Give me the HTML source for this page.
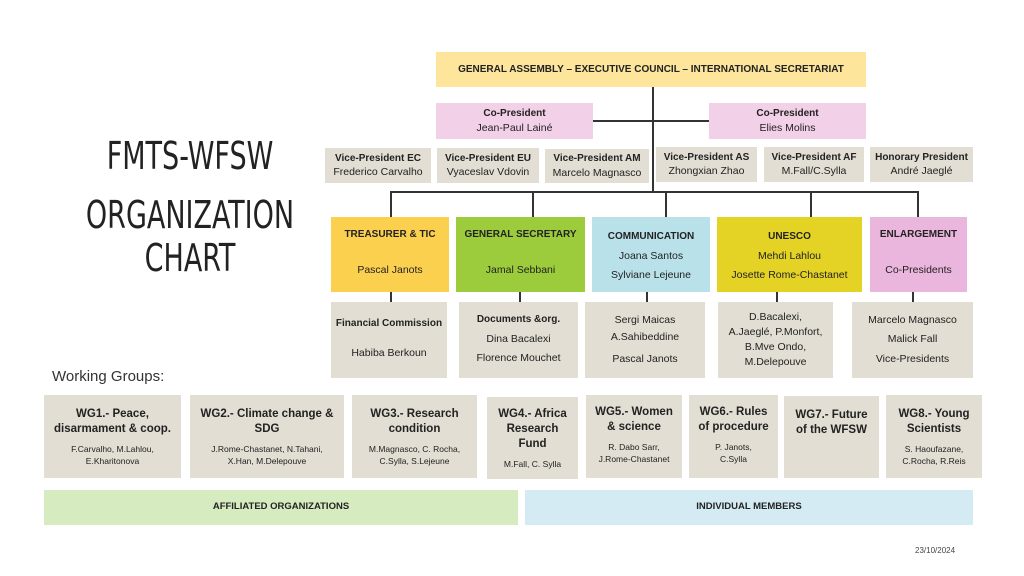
<!DOCTYPE html>
<html><head><meta charset="utf-8"><style>
*{margin:0;padding:0;box-sizing:border-box}
body{width:1024px;height:576px;background:#fff;position:relative;overflow:hidden;font-family:"Liberation Sans",sans-serif;color:#222}
.b{position:absolute;display:flex;flex-direction:column;justify-content:center;align-items:center;text-align:center;font-size:10.5px;line-height:1.35}
.b b{font-weight:bold;font-size:10px}
.g{background:#e2ded3}
.l{position:absolute;background:#333}
.t{position:absolute;left:40px;width:300px;text-align:center;font-family:"DejaVu Sans Condensed","DejaVu Sans",sans-serif;font-size:38px;line-height:1;transform:scaleX(0.79)}
.s{font-size:8.5px;line-height:1.45}
.w{font-size:11.5px!important;line-height:1.3}
</style></head><body>
<div class="t" style="top:137px">FMTS-WFSW</div>
<div class="t" style="top:196px">ORGANIZATION</div>
<div class="t" style="top:239px">CHART</div>
<div style="position:absolute;left:52px;top:368px;font-size:15px;color:#333">Working Groups:</div>
<div style="position:absolute;left:915px;top:546px;font-size:8px;color:#444">23/10/2024</div>

<div class="l" style="left:652px;top:87px;width:2px;height:105px"></div>
<div class="l" style="left:593px;top:120px;width:116px;height:2px"></div>
<div class="l" style="left:390px;top:191px;width:528px;height:2px"></div>
<div class="l" style="left:390px;top:191px;width:2px;height:26px"></div>
<div class="l" style="left:532px;top:191px;width:2px;height:26px"></div>
<div class="l" style="left:665px;top:191px;width:2px;height:26px"></div>
<div class="l" style="left:810px;top:191px;width:2px;height:26px"></div>
<div class="l" style="left:917px;top:191px;width:2px;height:26px"></div>
<div class="l" style="left:390px;top:292px;width:2px;height:10px"></div>
<div class="l" style="left:519px;top:292px;width:2px;height:10px"></div>
<div class="l" style="left:646px;top:292px;width:2px;height:10px"></div>
<div class="l" style="left:776px;top:292px;width:2px;height:10px"></div>
<div class="l" style="left:912px;top:292px;width:2px;height:10px"></div>

<div class="b" style="left:436px;top:52px;width:430px;height:35px;background:#fde59b"><b>GENERAL ASSEMBLY – EXECUTIVE COUNCIL – INTERNATIONAL SECRETARIAT</b></div>
<div class="b" style="left:436px;top:103px;width:157px;height:36px;background:#f2d0e8"><b>Co-President</b>Jean-Paul Lainé</div>
<div class="b" style="left:709px;top:103px;width:157px;height:36px;background:#f2d0e8"><b>Co-President</b>Elies Molins</div>

<div class="b g" style="left:325px;top:148px;width:106px;height:35px"><b>Vice-President EC</b>Frederico Carvalho</div>
<div class="b g" style="left:437px;top:148px;width:102px;height:35px"><b>Vice-President EU</b>Vyaceslav Vdovin</div>
<div class="b g" style="left:545px;top:149px;width:104px;height:34px"><b>Vice-President AM</b>Marcelo Magnasco</div>
<div class="b g" style="left:656px;top:147px;width:101px;height:35px"><b>Vice-President AS</b>Zhongxian Zhao</div>
<div class="b g" style="left:764px;top:147px;width:100px;height:35px"><b>Vice-President AF</b>M.Fall/C.Sylla</div>
<div class="b g" style="left:870px;top:147px;width:103px;height:35px"><b>Honorary President</b>André Jaeglé</div>

<div class="b" style="left:331px;top:217px;width:118px;height:75px;background:#fcd04f;justify-content:flex-start;padding-top:11px"><b>TREASURER &amp; TIC</b><span style="margin-top:21px">Pascal Janots</span></div>
<div class="b" style="left:456px;top:217px;width:129px;height:75px;background:#9ccc3c;justify-content:flex-start;padding-top:11px"><b>GENERAL SECRETARY</b><span style="margin-top:21px">Jamal Sebbani</span></div>
<div class="b" style="left:592px;top:217px;width:118px;height:75px;background:#b9e1ea;justify-content:flex-start;padding-top:11px;line-height:1.85"><b>COMMUNICATION</b>Joana Santos<br>Sylviane Lejeune</div>
<div class="b" style="left:717px;top:217px;width:145px;height:75px;background:#e4d325;justify-content:flex-start;padding-top:11px;line-height:1.85"><b>UNESCO</b>Mehdi Lahlou<br>Josette Rome-Chastanet</div>
<div class="b" style="left:870px;top:217px;width:97px;height:75px;background:#ebb6dd;justify-content:flex-start;padding-top:11px"><b>ENLARGEMENT</b><span style="margin-top:21px">Co-Presidents</span></div>

<div class="b g" style="left:331px;top:302px;width:116px;height:76px;justify-content:flex-start;padding-top:15px"><b>Financial Commission</b><span style="margin-top:15px">Habiba Berkoun</span></div>
<div class="b g" style="left:459px;top:302px;width:119px;height:76px;line-height:1.85"><b>Documents &amp;org.</b>Dina Bacalexi<br>Florence Mouchet</div>
<div class="b g" style="left:585px;top:302px;width:120px;height:76px;line-height:1.6">Sergi Maicas<br>A.Sahibeddine<br><span style="margin-top:5px">Pascal Janots</span></div>
<div class="b g" style="left:718px;top:302px;width:115px;height:76px;line-height:1.45">D.Bacalexi,<br>A.Jaeglé, P.Monfort,<br>B.Mve Ondo,<br>M.Delepouve</div>
<div class="b g" style="left:852px;top:302px;width:121px;height:76px;line-height:1.85">Marcelo Magnasco<br>Malick Fall<br>Vice-Presidents</div>

<div class="b g" style="left:44px;top:395px;width:137px;height:83px;justify-content:flex-start;padding-top:12px"><b class="w">WG1.- Peace,<br>disarmament &amp; coop.</b><span class="s" style="margin-top:6px">F.Carvalho, M.Lahlou,<br>E.Kharitonova</span></div>
<div class="b g" style="left:190px;top:395px;width:154px;height:83px;justify-content:flex-start;padding-top:12px"><b class="w">WG2.- Climate change &amp;<br>SDG</b><span class="s" style="margin-top:6px">J.Rome-Chastanet, N.Tahani,<br>X.Han, M.Delepouve</span></div>
<div class="b g" style="left:352px;top:395px;width:125px;height:83px;justify-content:flex-start;padding-top:12px"><b class="w">WG3.- Research<br>condition</b><span class="s" style="margin-top:6px">M.Magnasco, C. Rocha,<br>C.Sylla, S.Lejeune</span></div>
<div class="b g" style="left:487px;top:397px;width:91px;height:82px;justify-content:flex-start;padding-top:10px"><b class="w">WG4.- Africa<br>Research<br>Fund</b><span class="s" style="margin-top:6px">M.Fall, C. Sylla</span></div>
<div class="b g" style="left:586px;top:395px;width:96px;height:83px;justify-content:flex-start;padding-top:10px"><b class="w">WG5.- Women<br>&amp; science</b><span class="s" style="margin-top:6px">R. Dabo Sarr,<br>J.Rome-Chastanet</span></div>
<div class="b g" style="left:689px;top:395px;width:89px;height:83px;justify-content:flex-start;padding-top:10px"><b class="w">WG6.- Rules<br>of procedure</b><span class="s" style="margin-top:6px">P. Janots,<br>C.Sylla</span></div>
<div class="b g" style="left:784px;top:396px;width:95px;height:82px;justify-content:flex-start;padding-top:12px"><b class="w">WG7.- Future<br>of the WFSW</b></div>
<div class="b g" style="left:886px;top:395px;width:96px;height:83px;justify-content:flex-start;padding-top:12px"><b class="w">WG8.- Young<br>Scientists</b><span class="s" style="margin-top:6px">S. Haoufazane,<br>C.Rocha, R.Reis</span></div>

<div class="b" style="left:44px;top:490px;width:474px;height:35px;background:#d6ebc0"><b style="font-size:9.5px">AFFILIATED ORGANIZATIONS</b></div>
<div class="b" style="left:525px;top:490px;width:448px;height:35px;background:#d4ebf4"><b style="font-size:9.5px">INDIVIDUAL MEMBERS</b></div>
</body></html>
